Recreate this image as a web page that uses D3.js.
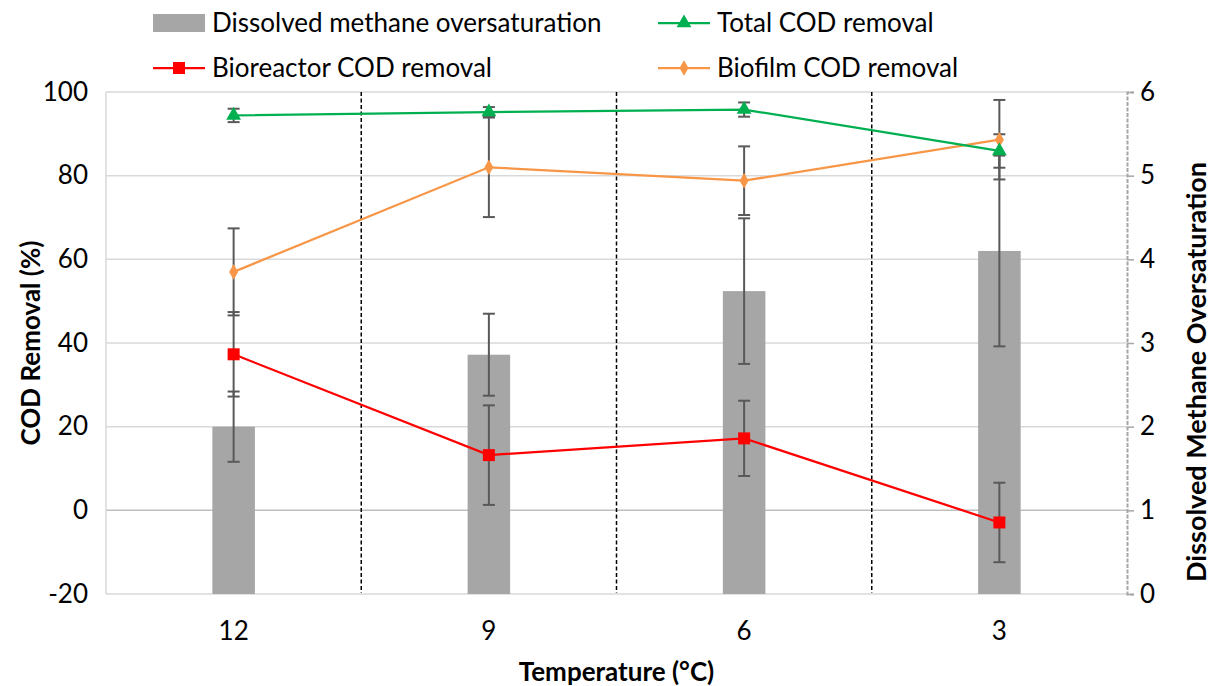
<!DOCTYPE html>
<html>
<head>
<meta charset="utf-8">
<script src="https://cdn.jsdelivr.net/npm/d3@7"></script>
<style>
  html, body { margin: 0; padding: 0; background: #fff; }
  svg text { font-family: Lato, "Open Sans", sans-serif; fill: #000; }
</style>
</head>
<body>
<svg id="chart" width="1211" height="686"></svg>
<script>
// Temperature steps (°C)
const categories = ["12", "9", "6", "3"];

// Dissolved methane oversaturation (secondary axis) with error
const methane    = [2.00, 2.86, 3.62, 4.10];
const methaneErr = [0.42, 0.49, 0.87, 1.14];

// COD removal series (%), with errors
const totalCOD      = [94.4, 95.2, 95.8, 85.9];
const totalErr      = [1.6, 1.2, 1.7, 4.0];
const bioreactorCOD = [37.3, 13.2, 17.2, -2.9];
const bioreactorErr = [10.1, 11.9, 9.0, 9.5];
const biofilmCOD    = [57.0, 82.0, 78.8, 88.6];
const biofilmErr    = [10.4, 11.9, 8.2, 9.5];

const leftTicks  = [-20, 0, 20, 40, 60, 80, 100];
const rightTicks = [0, 1, 2, 3, 4, 5, 6];

const W = 1211, H = 686;
const margin = { top: 92, right: 84, bottom: 92, left: 106 };
const x0 = margin.left, x1 = W - margin.right;
const y0 = H - margin.bottom, y1 = margin.top;

const tickFont = 26, titleFont = 26, legendFont = 26;

const svg = d3.select("#chart");

const x = d3.scaleBand().domain(categories).range([x0, x1]).paddingInner(0).paddingOuter(0);
const yL = d3.scaleLinear().domain([-20, 100]).range([y0, y1]);
const yR = d3.scaleLinear().domain([0, 6]).range([y0, y1]);
const cx = c => x(c) + x.bandwidth() / 2;

const colors = {
  bar: "#a6a6a6",
  total: "#00b050",
  bioreactor: "#ff0000",
  biofilm: "#f79646",
  err: "#595959",
  grid: "#d9d9d9",
  axis: "#bfbfbf"
};

// Gridlines
svg.append("g").selectAll("line").data(leftTicks).join("line")
  .attr("x1", x0).attr("x2", x1)
  .attr("y1", d => yL(d)).attr("y2", d => yL(d))
  .attr("stroke", d => d === 0 ? colors.axis : colors.grid)
  .attr("stroke-width", 1.5);

// Left axis line
svg.append("line").attr("x1", x0).attr("x2", x0).attr("y1", y1).attr("y2", y0)
  .attr("stroke", colors.grid).attr("stroke-width", 1.5);

// Left axis labels (plain hyphen for negatives)
const leftAxis = d3.axisLeft(yL).tickValues(leftTicks).tickSize(0).tickPadding(18)
  .tickFormat(d => String(d));
const gL = svg.append("g").attr("transform", `translate(${x0},0)`).call(leftAxis);
gL.select(".domain").remove();
gL.selectAll("text").attr("font-size", tickFont).attr("font-family", "Lato, sans-serif").attr("fill", "#000");

// Right axis (line, outward ticks, labels)
const rightAxis = d3.axisRight(yR).tickValues(rightTicks).tickSize(7).tickPadding(6)
  .tickFormat(d => String(d));
const gR = svg.append("g").attr("transform", `translate(${x1},0)`).call(rightAxis);
gR.select(".domain").attr("stroke", "#a6a6a6").attr("stroke-width", 2).attr("stroke-dasharray", "4,1.5");
gR.selectAll(".tick line").attr("stroke", "#a6a6a6").attr("stroke-width", 1.5);
gR.selectAll("text").attr("font-size", tickFont).attr("font-family", "Lato, sans-serif").attr("fill", "#000");

// Category labels
const bottomAxis = d3.axisBottom(x).tickSize(0).tickPadding(28);
const gB = svg.append("g").attr("transform", `translate(0,${y0})`).call(bottomAxis);
gB.select(".domain").remove();
gB.selectAll("text").attr("font-size", tickFont).attr("font-family", "Lato, sans-serif").attr("fill", "#000");

// Dashed separators between temperature steps
const seps = categories.slice(1).map(c => x(c));
svg.append("g").selectAll("line").data(seps).join("line")
  .attr("x1", d => d).attr("x2", d => d).attr("y1", y1).attr("y2", y0 - 1)
  .attr("stroke", "#000").attr("stroke-width", 1.5).attr("stroke-dasharray", "4,2.5");

// Methane bars
const barW = x.bandwidth() / 6;
svg.append("g").selectAll("rect").data(categories).join("rect")
  .attr("x", (c) => cx(c) - barW / 2)
  .attr("width", barW)
  .attr("y", (c, i) => yR(methane[i]))
  .attr("height", (c, i) => yR(0) - yR(methane[i]))
  .attr("fill", colors.bar);

// Error bar helper
function errorBars(values, errs, scale) {
  const g = svg.append("g").attr("stroke", colors.err).attr("stroke-width", 2).attr("fill", "none");
  categories.forEach((c, i) => {
    const xc = cx(c), hi = scale(values[i] + errs[i]), lo = scale(values[i] - errs[i]);
    g.append("line").attr("x1", xc).attr("x2", xc).attr("y1", hi).attr("y2", lo);
    g.append("line").attr("x1", xc - 6).attr("x2", xc + 6).attr("y1", hi).attr("y2", hi);
    g.append("line").attr("x1", xc - 6).attr("x2", xc + 6).attr("y1", lo).attr("y2", lo);
  });
}
errorBars(methane, methaneErr, yR);
errorBars(bioreactorCOD, bioreactorErr, yL);
errorBars(biofilmCOD, biofilmErr, yL);
errorBars(totalCOD, totalErr, yL);

// Series lines and markers
const sym = {
  square: d3.symbol().type(d3.symbolSquare).size(144),
  diamond: d3.symbol().type(d3.symbolDiamond).size(70),
  triangle: d3.symbol().type(d3.symbolTriangle).size(95)
};
function series(values, color, shape) {
  const line = d3.line().x((d, i) => cx(categories[i])).y(d => yL(d));
  svg.append("path").datum(values).attr("d", line)
    .attr("fill", "none").attr("stroke", color).attr("stroke-width", 2.25);
  svg.append("g").selectAll("path").data(values).join("path")
    .attr("transform", (d, i) => `translate(${cx(categories[i])},${yL(d)})`)
    .attr("d", sym[shape]()).attr("fill", color);
}
series(bioreactorCOD, colors.bioreactor, "square");
series(biofilmCOD, colors.biofilm, "diamond");
series(totalCOD, colors.total, "triangle");

// Axis titles
svg.append("text").attr("x", (x0 + x1) / 2).attr("y", 681)
  .attr("text-anchor", "middle").attr("font-size", titleFont).attr("font-weight", "bold")
  .text("Temperature (°C)");
svg.append("text").attr("transform", `translate(40,${(y0 + y1) / 2}) rotate(-90)`)
  .attr("text-anchor", "middle").attr("font-size", titleFont).attr("font-weight", "bold")
  .text("COD Removal (%)");
svg.append("text").attr("transform", `translate(1206,372) rotate(-90)`)
  .attr("text-anchor", "middle").attr("font-size", 27).attr("font-weight", "bold")
  .text("Dissolved Methane Oversaturation");

// Legend
const legendItems = [
  { label: "Dissolved methane oversaturation", kind: "bar", color: colors.bar, col: 0, row: 0 },
  { label: "Total COD removal", kind: "triangle", color: colors.total, col: 1, row: 0 },
  { label: "Bioreactor COD removal", kind: "square", color: colors.bioreactor, col: 0, row: 1 },
  { label: "Biofilm COD removal", kind: "diamond", color: colors.biofilm, col: 1, row: 1 }
];
const legCols = [153, 658], legRows = [23, 68], keyW = 52;
const lg = svg.append("g");
legendItems.forEach(it => {
  const lx = legCols[it.col], ly = legRows[it.row];
  if (it.kind === "bar") {
    lg.append("rect").attr("x", lx).attr("y", ly - 9).attr("width", keyW).attr("height", 18).attr("fill", it.color);
  } else {
    lg.append("line").attr("x1", lx).attr("x2", lx + keyW).attr("y1", ly).attr("y2", ly)
      .attr("stroke", it.color).attr("stroke-width", 2.25);
    lg.append("path").attr("transform", `translate(${lx + keyW / 2},${ly})`)
      .attr("d", sym[it.kind]()).attr("fill", it.color);
  }
  lg.append("text").attr("x", lx + keyW + 7).attr("y", ly).attr("dy", "0.35em")
    .attr("font-size", legendFont).text(it.label);
});
</script>
</body>
</html>
